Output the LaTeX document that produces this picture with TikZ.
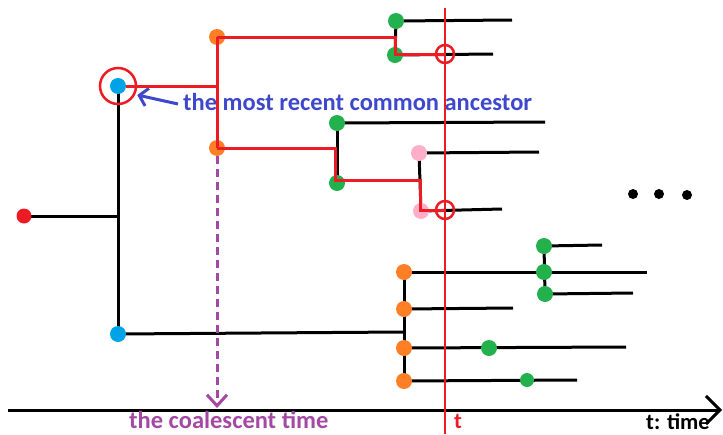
\documentclass[tikz,border=0pt]{standalone}
\usepackage{fontspec}
\setmainfont{Carlito}
\usetikzlibrary{arrows.meta}
\definecolor{pred}{HTML}{ED1C24}
\definecolor{pgreen}{HTML}{22B14C}
\definecolor{porange}{HTML}{FF7F27}
\definecolor{pblue}{HTML}{00A2E8}
\definecolor{ppink}{HTML}{FFAEC9}
\definecolor{pindigo}{HTML}{3F48CC}
\definecolor{ppurple}{HTML}{A349A4}
\pgfdeclarelayer{back}
\pgfdeclarelayer{front}
\pgfsetlayers{back,main,front}
\begin{document}
\begin{tikzpicture}[x=1pt,y=-1pt,
  dot/.style={circle,inner sep=0pt,minimum size=16pt},
  smalldot/.style={circle,inner sep=0pt,minimum size=14pt},
  branch/.style={line width=3pt,black},
  lineage/.style={line width=3pt,pred},
  mark circle/.style={circle,draw=pred,line width=2.5pt,inner sep=0pt},
  label/.style={font=\bfseries,inner sep=0pt}]
\useasboundingbox (0,0) rectangle (723,434);

% ---- nodes of the genealogy ----
\node[dot,fill=pred,minimum size=15pt] (r0) at (24,216) {};
\node[dot,fill=pblue] (b1) at (118,86) {};
\node[dot,fill=pblue] (b2) at (118,334) {};
\node[dot,fill=porange] (o1) at (217,37) {};
\node[dot,fill=porange] (o2) at (217,148) {};
\node[dot,fill=pgreen] (g1) at (396,21) {};
\node[dot,fill=pgreen] (g2) at (395,55) {};
\node[dot,fill=pgreen] (g3) at (337,123) {};
\node[dot,fill=pgreen] (g4) at (337,183) {};
\node[dot,fill=ppink] (p1) at (419,153) {};
\node[dot,fill=ppink] (p2) at (421,211) {};
\node[dot,fill=porange] (o3) at (404,272) {};
\node[dot,fill=porange] (o4) at (404,309) {};
\node[dot,fill=porange] (o5) at (404,348) {};
\node[dot,fill=porange] (o6) at (404,381) {};
\node[dot,fill=pgreen] (g5) at (544,246) {};
\node[dot,fill=pgreen] (g6) at (544,272) {};
\node[dot,fill=pgreen] (g7) at (545,294) {};
\node[dot,fill=pgreen] (g8) at (489,348) {};
\node[smalldot,fill=pgreen] (g9) at (527,380) {};

% free ends of the branches
\coordinate (j0) at (118,216);
\coordinate (ja) at (217,86);
\coordinate (jb) at (395,37);
\coordinate (jc) at (335,148);
\coordinate (jd) at (420,180);
\coordinate (je) at (403,332);
\coordinate (e1) at (512,20);
\coordinate (e2) at (493,54);
\coordinate (e3) at (545,122);
\coordinate (e4) at (539,152);
\coordinate (e5) at (502,209);
\coordinate (e6) at (647,272);
\coordinate (e7) at (513,308);
\coordinate (e8) at (626,347);
\coordinate (e9) at (577,380);
\coordinate (e10) at (602,245);
\coordinate (e11) at (633,293);

% ---- black branches ----
\begin{pgfonlayer}{back}
  \draw[branch] (r0.center) -- (j0);
  \draw[branch] (b1.center) -- (b2.center);
  \draw[branch] (o1.center) -- (o2.center);
  \draw[branch] (g1.center) -- (g2.center);
  \draw[branch] (g1.center) -- (e1);
  \draw[branch] (g2.center) -- (e2);
  \draw[branch] (g3.center) -- (g4.center);
  \draw[branch] (g3.center) -- (e3);
  \draw[branch] (p1.center) -- (p2.center);
  \draw[branch] (p1.center) -- (e4);
  \draw[branch] (p2.center) -- (e5);
  \draw[branch] (b2.center) -- (je);
  \draw[branch] (o3.center) -- (o6.center);
  \draw[branch] (o3.center) -- (e6);
  \draw[branch] (o4.center) -- (e7);
  \draw[branch] (o5.center) -- (e8);
  \draw[branch] (o6.center) -- (e9);
  \draw[branch] (g5.center) -- (g7.center);
  \draw[branch] (g5.center) -- (e10);
  \draw[branch] (g7.center) -- (e11);
\end{pgfonlayer}

% ---- sampled lineages back to the common ancestor ----
\coordinate (tt) at (445,8);
\coordinate (tb) at (445,434);
\node[mark circle,minimum size=36pt] (c0) at (b1) {};
\node[mark circle,minimum size=18pt] (c1) at (445,54) {};
\node[mark circle,minimum size=18pt] (c2) at (445,210) {};
\begin{pgfonlayer}{front}
  \draw[lineage] (b1.east) -- (ja);
  \draw[lineage] (o1.center) -- (o2.center);
  \draw[lineage] (o1.center) -- (jb) |- (c1.center);
  \draw[lineage] (o2.center) -- (jc) |- (jd) |- (c2.center);
  \draw[pred,line width=1.6pt] (tt) -- (tb);
\end{pgfonlayer}

% ---- time axis ----
\coordinate (a0) at (8,410);
\coordinate (a1) at (722,410);
\draw[line width=3pt,-{Straight Barb[length=14pt,width=28pt]}] (a0) -- (a1);
\node[label,font=\bfseries\fontsize{22.5}{24}\selectfont,anchor=base east] (tlabel) at (710,429.5) {t: time};
\node[label,text=pred,font=\bfseries\fontsize{22.5}{24}\selectfont,anchor=base west] (tmark) at (454,428) {t};

% ---- coalescent time ----
\coordinate (ct) at (217,408);
\draw[ppurple,line width=3pt,dash pattern=on 8pt off 5pt,
  -{Straight Barb[length=11pt,width=20pt]}] (o2.south) -- (ct);
\node[label,text=ppurple,font=\bfseries\fontsize{24.5}{26}\selectfont,anchor=base west] (ctext) at (129,428) {the coalescent time};

% ---- most recent common ancestor ----
\node[label,text=pindigo,font=\bfseries\fontsize{24.5}{26}\selectfont,anchor=base west] (mtext) at (183,110) {the most recent common ancestor};
\coordinate (mfrom) at (178,104);
\draw[pindigo,line width=3pt,-{Straight Barb[length=8pt,width=18pt]}] (mfrom) -- (c0.east |- 0,95);

% ---- further lineages ----
\node[circle,fill=black,inner sep=0pt,minimum size=10pt] (d1) at (633,194) {};
\node[circle,fill=black,inner sep=0pt,minimum size=10pt] (d2) at (659,194) {};
\node[circle,fill=black,inner sep=0pt,minimum size=10pt] (d3) at (687,195) {};
\end{tikzpicture}
\end{document}
